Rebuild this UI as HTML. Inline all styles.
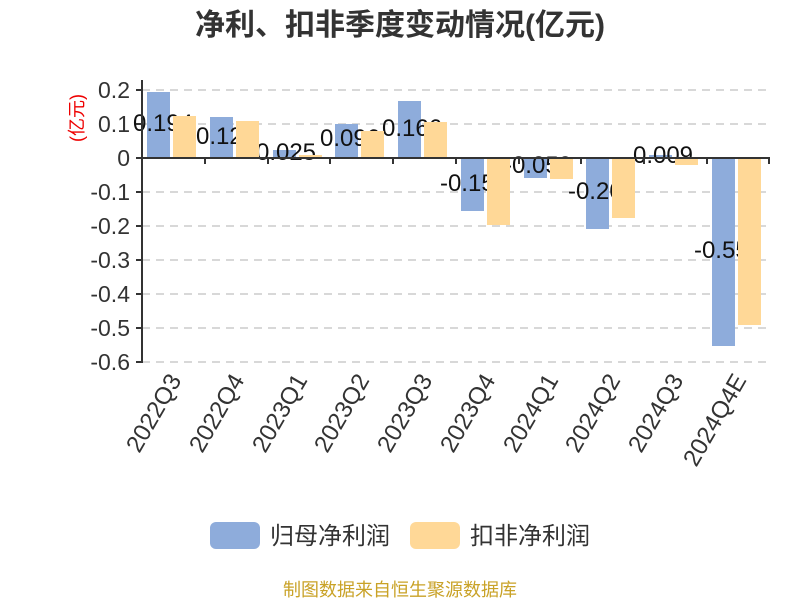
<!DOCTYPE html>
<html><head><meta charset="utf-8"><style>
html,body{margin:0;padding:0;background:#fff;}
svg{display:block;font-family:"Liberation Sans","Noto Sans CJK SC",sans-serif;}
</style></head><body>
<svg width="800" height="600" viewBox="0 0 800 600" xmlns="http://www.w3.org/2000/svg">
<text x="400" y="35" text-anchor="middle" font-size="30" font-weight="bold" fill="#333">净利、扣非季度变动情况(亿元)</text>
<g stroke="#ccc" stroke-width="1.5" stroke-dasharray="8,6">
<line x1="142" y1="90" x2="770" y2="90"/><line x1="142" y1="124" x2="770" y2="124"/>
<line x1="142" y1="192" x2="770" y2="192"/><line x1="142" y1="226" x2="770" y2="226"/>
<line x1="142" y1="260" x2="770" y2="260"/><line x1="142" y1="294" x2="770" y2="294"/>
<line x1="142" y1="328" x2="770" y2="328"/><line x1="142" y1="362" x2="770" y2="362"/>
</g>
<g font-size="23" fill="#333" text-anchor="end">
<text x="130" y="98">0.2</text><text x="130" y="132">0.1</text><text x="130" y="166">0</text>
<text x="130" y="200">-0.1</text><text x="130" y="234">-0.2</text><text x="130" y="268">-0.3</text>
<text x="130" y="302">-0.4</text><text x="130" y="336">-0.5</text><text x="130" y="370">-0.6</text>
</g>
<text transform="translate(83,118) rotate(-90)" text-anchor="middle" font-size="18" fill="#e00">(亿元)</text>
<g fill="#8eacdb">
<rect x="147" y="92" width="23" height="66"/>
<rect x="210" y="117" width="23" height="41"/>
<rect x="273" y="150" width="23" height="8"/>
<rect x="335" y="124" width="23" height="34"/>
<rect x="398" y="101" width="23" height="57"/>
<rect x="461" y="158" width="23" height="53"/>
<rect x="524" y="158" width="23" height="20"/>
<rect x="586" y="158" width="23" height="71"/>
<rect x="649" y="155" width="23" height="3"/>
<rect x="712" y="158" width="23" height="188"/>
</g>
<g font-size="24" fill="#111" text-anchor="middle">
<text x="163" y="131">0.194</text>
<text x="226" y="144">0.123</text>
<text x="286" y="160">0.025</text>
<text x="350" y="146">0.096</text>
<text x="412" y="136">0.166</text>
<text x="474" y="191">-0.156</text>
<text x="538" y="173">-0.059</text>
<text x="602" y="199">-0.209</text>
<text x="663" y="163">0.009</text>
<text x="728" y="258">-0.553</text>
</g>
<g fill="#ffd897">
<rect x="173" y="116" width="23" height="42"/>
<rect x="236" y="121" width="23" height="37"/>
<rect x="299" y="155" width="23" height="3"/>
<rect x="361" y="131" width="23" height="27"/>
<rect x="424" y="122" width="23" height="36"/>
<rect x="487" y="158" width="23" height="67"/>
<rect x="550" y="158" width="23" height="21"/>
<rect x="612" y="158" width="23" height="60"/>
<rect x="675" y="158" width="23" height="7"/>
<rect x="738" y="158" width="23" height="167"/>
</g>
<g stroke="#333" stroke-width="2">
<line x1="142" y1="80" x2="142" y2="363"/>
<line x1="136" y1="90" x2="142" y2="90"/><line x1="136" y1="124" x2="142" y2="124"/>
<line x1="136" y1="158" x2="142" y2="158"/><line x1="136" y1="192" x2="142" y2="192"/>
<line x1="136" y1="226" x2="142" y2="226"/><line x1="136" y1="260" x2="142" y2="260"/>
<line x1="136" y1="294" x2="142" y2="294"/><line x1="136" y1="328" x2="142" y2="328"/>
<line x1="136" y1="362" x2="142" y2="362"/>
<line x1="142" y1="158" x2="770" y2="158"/>
<line x1="205" y1="158" x2="205" y2="164"/><line x1="268" y1="158" x2="268" y2="164"/>
<line x1="330" y1="158" x2="330" y2="164"/><line x1="393" y1="158" x2="393" y2="164"/>
<line x1="456" y1="158" x2="456" y2="164"/><line x1="519" y1="158" x2="519" y2="164"/>
<line x1="581" y1="158" x2="581" y2="164"/><line x1="644" y1="158" x2="644" y2="164"/>
<line x1="707" y1="158" x2="707" y2="164"/><line x1="769" y1="158" x2="769" y2="164"/>
</g>
<g font-size="24" fill="#333" text-anchor="end">
<text transform="translate(182,380) rotate(-60)">2022Q3</text>
<text transform="translate(245,380) rotate(-60)">2022Q4</text>
<text transform="translate(308,380) rotate(-60)">2023Q1</text>
<text transform="translate(370,380) rotate(-60)">2023Q2</text>
<text transform="translate(433,380) rotate(-60)">2023Q3</text>
<text transform="translate(496,380) rotate(-60)">2023Q4</text>
<text transform="translate(559,380) rotate(-60)">2024Q1</text>
<text transform="translate(621,380) rotate(-60)">2024Q2</text>
<text transform="translate(684,380) rotate(-60)">2024Q3</text>
<text transform="translate(747,380) rotate(-60)">2024Q4E</text>
</g>
<rect x="210" y="522" width="50" height="27" rx="6" fill="#8eacdb"/>
<text x="270" y="544" font-size="24" fill="#333">归母净利润</text>
<rect x="410" y="522" width="50" height="27" rx="6" fill="#ffd897"/>
<text x="470" y="544" font-size="24" fill="#333">扣非净利润</text>
<text x="400" y="596" text-anchor="middle" font-size="18" fill="#c9a227">制图数据来自恒生聚源数据库</text>
</svg>
</body></html>
